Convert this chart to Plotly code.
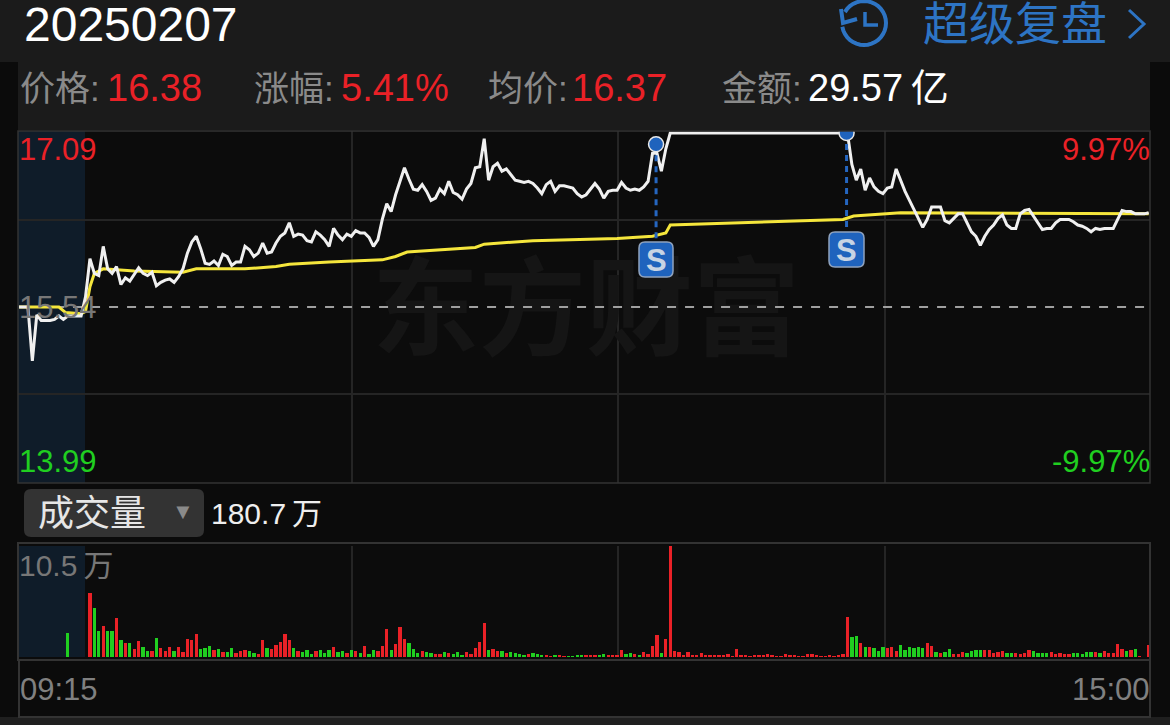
import numpy as np
import plotly.graph_objects as go

# minutes from the 09:30 open, the call auction runs from -15 to -1
auction_minutes = list(range(-15, 0))
auction_price = [15.54, 15.54, 15.54, 15.06, 15.47, 15.42, 15.42, 15.42, 15.43, 15.46,
                 15.43, 15.46, 15.46, 15.46, 15.46]
session_price = [
    15.63, 15.97, 15.84, 15.82, 16.08, 15.88, 15.84, 15.90, 15.74, 15.80,
    15.77, 15.83, 15.89, 15.84, 15.82, 15.85, 15.73, 15.76, 15.78, 15.79,
    15.76, 15.81, 15.88, 16.02, 16.12, 16.17, 16.06, 15.93, 15.92, 15.95,
    15.91, 16.01, 15.99, 15.91, 15.94, 15.94, 16.08, 16.05, 15.99, 16.02,
    16.11, 16.02, 16.03, 16.11, 16.17, 16.20, 16.29, 16.17, 16.19, 16.18,
    16.13, 16.12, 16.21, 16.18, 16.14, 16.08, 16.24, 16.18, 16.14, 16.19,
    16.17, 16.22, 16.20, 16.20, 16.16, 16.08, 16.14, 16.32, 16.46, 16.39,
    16.54, 16.66, 16.78, 16.68, 16.59, 16.58, 16.63, 16.57, 16.49, 16.51,
    16.59, 16.55, 16.66, 16.56, 16.54, 16.50, 16.59, 16.64, 16.78, 16.79,
    17.04, 16.67, 16.79, 16.82, 16.75, 16.77, 16.72, 16.67, 16.66, 16.65,
    16.66, 16.64, 16.60, 16.55, 16.63, 16.66, 16.57, 16.62, 16.62, 16.61,
    16.60, 16.55, 16.52, 16.54, 16.59, 16.64, 16.59, 16.51, 16.57, 16.58,
    16.58, 16.65, 16.60, 16.58, 16.59, 16.58, 16.61, 16.66, 16.91, 16.91,
    16.75, 16.95, 17.09, 17.09, 17.09, 17.09, 17.09, 17.09, 17.09, 17.09,
    17.09, 17.09, 17.09, 17.09, 17.09, 17.09, 17.09, 17.09, 17.09, 17.09,
    17.09, 17.09, 17.09, 17.09, 17.09, 17.09, 17.09, 17.09, 17.09, 17.09,
    17.09, 17.09, 17.09, 17.09, 17.09, 17.09, 17.09, 17.09, 17.09, 17.09,
    17.09, 17.09, 17.09, 16.81, 16.67, 16.77, 16.58, 16.69, 16.61, 16.57,
    16.55, 16.60, 16.61, 16.77, 16.67, 16.57, 16.49, 16.41, 16.33, 16.25,
    16.32, 16.43, 16.43, 16.43, 16.31, 16.29, 16.33, 16.37, 16.37, 16.29,
    16.21, 16.17, 16.09, 16.17, 16.23, 16.27, 16.33, 16.36, 16.27, 16.24,
    16.24, 16.37, 16.40, 16.41, 16.35, 16.29, 16.23, 16.24, 16.24, 16.29,
    16.32, 16.32, 16.32, 16.30, 16.27, 16.26, 16.24, 16.21, 16.24, 16.23,
    16.24, 16.24, 16.24, 16.32, 16.40, 16.39, 16.39, 16.37, 16.37, 16.37, 16.38,
]
session_minutes = list(range(0, 241))

avg_minutes = [-15, -6, -4.5, -1, 0, 1, 2, 3, 4, 11, 22, 25, 36, 43, 46, 55, 64, 67, 70, 72.6,
               88, 90, 101, 120, 128, 131, 132, 171, 173.4, 184, 240]
avg_price = [15.54, 15.54, 15.49, 15.48, 15.50, 15.72, 15.84, 15.86, 15.88, 15.86, 15.85, 15.88,
             15.88, 15.90, 15.92, 15.94, 15.96, 15.96, 15.99, 16.03, 16.07, 16.10, 16.13, 16.15,
             16.17, 16.20, 16.27, 16.32, 16.35, 16.38, 16.37]

prev_close = 15.54
limit_up = 17.09
limit_down = 13.99

sell_minutes = [128.8, 171.8]
sell_top = [16.99, 17.09]
sell_bottom = [16.14, 16.21]

# volume in units of 10k shares, R/G = up/down minute
volume_minutes = list(range(1, 241))
volume_values = [
    6.03, 4.60, 2.46, 2.97, 2.46, 2.46, 3.72, 1.61, 1.36, 1.29,
    .73, 1.51, .95, .57, .60, 1.83, .88, .57, .95, .57,
    .98, .47, 1.67, 1.61, 2.18, .76, .85, 1.04, .69, .76,
    .47, .47, .85, .41, .57, .69, .60, .38, .32, 1.61,
    .85, .73, 1.14, 1.42, 2.18, 1.61, .85, .57, .47, .69,
    .32, .57, .69, .38, .66, .95, .47, .57, .38, .63,
    .57, .41, 1.04, .28, .63, .60, 1.04, 2.65, .66, 1.23,
    2.81, 1.70, 1.29, .73, .41, .57, .47, .38, .25, .25,
    .47, .41, .28, .47, .22, .44, .28, .82, 1.42, 3.22,
    .69, .76, .60, .54, .35, .44, .38, .28, .19, .32,
    .35, .28, .22, .19, .09, .19, .22, .09, .09, .09,
    .22, .19, .22, .22, .16, .16, .25, .13, .13, .19,
    .66, .25, .38, .25, .16, .44, .32, 1.01, 2.05, .38,
    1.67, 10.5, .54, .44, .19, .44, .19, .16, .35, .13,
    .13, .16, .16, .16, .25, .09, .76, .13, .16, .06,
    .16, .16, .16, .25, .16, .09, .09, .25, .16, .13,
    .09, .09, .28, .28, .16, .06, .06, .16, .09, .16,
    .25, 3.75, 1.89, 1.96, 1.29, .98, .91, .82, .54, .98,
    .85, .95, .57, 1.10, .63, .91, .82, .91, .85, 1.32,
    1.04, .50, .41, .44, .73, .28, .28, .47, .38, .57,
    .63, .63, .66, .63, .38, .50, .60, .38, .35, .38,
    .28, .38, .66, .54, .35, .35, .35, .44, .28, .38,
    .25, .25, .38, .41, .28, .47, .47, .44, .35, .54,
    .38, .38, 1.20, .73, .60, .66, .73, .03, 0, 1.10,
]
volume_sides = (
    "RGGRGGRGRG" "RRGGRGRRRG" "RRRRRGGGRG" "RGGRRRGGRR" "GRRRRRGRGG" "GRGGGRGGRG"
    "RGRGGRRRGR" "RRGGGRGGRR" "GRGGGRRRRR" "GRRGRGGGGR" "GGGRRGRRGG" "GGRRRGGRRR"
    "RGGRGRRRRG" "RRRRRRRRRR" "RRRRRRRRRR" "RRRRRRRRRR" "RRRRRRRRRR" "RRGGRGRGGG"
    "RRRGGGGGGR" "RGRGGRRRGG" "GGRRRRRGGR" "RRRGGGGRRR" "RRGGGGGRGR" "RRRRGRGRRR"
)
auction_volume_minute = [-4]
auction_volume = [2.24]

assert len(session_price) == 241
assert len(volume_values) == 240 and len(volume_sides) == 240

RED = "#ea2127"
GREEN = "#20cf20"
BLUE = "#2d74c4"
GRAY = "#8a8a8a"
GRID = "#252525"
BORDER = "#333333"
W, H = 1170, 725
CJK = "Liberation Sans, Noto Sans CJK SC"


def px(x):
    return x / W


def py(y):
    return 1 - y / H


def rect(x0, y0, x1, y1, fill=None, line=None, width=0, layer="below"):
    return dict(type="rect", xref="paper", yref="paper", x0=px(x0), x1=px(x1), y0=py(y1), y1=py(y0),
                fillcolor=fill, line=dict(color=line, width=width), layer=layer)


def rounded(x0, y0, x1, y1, r, fill, line=None, width=0, layer="below"):
    p = (f"M {px(x0 + r)} {py(y0)} L {px(x1 - r)} {py(y0)} Q {px(x1)} {py(y0)} {px(x1)} {py(y0 + r)} "
         f"L {px(x1)} {py(y1 - r)} Q {px(x1)} {py(y1)} {px(x1 - r)} {py(y1)} "
         f"L {px(x0 + r)} {py(y1)} Q {px(x0)} {py(y1)} {px(x0)} {py(y1 - r)} "
         f"L {px(x0)} {py(y0 + r)} Q {px(x0)} {py(y0)} {px(x0 + r)} {py(y0)} Z")
    return dict(type="path", xref="paper", yref="paper", path=p, fillcolor=fill,
                line=dict(color=line, width=width), layer=layer)


def polyline(points, color, width):
    p = "M " + " L ".join(f"{px(a)} {py(b)}" for a, b in points)
    return dict(type="path", xref="paper", yref="paper", path=p,
                line=dict(color=color, width=width), layer="above")


def label(text, x, y, size, color, anchor="left", font=CJK):
    return dict(text=text, x=px(x), y=py(y), xref="paper", yref="paper", xanchor=anchor, yanchor="middle",
                showarrow=False, font=dict(size=size, color=color, family=font), borderpad=0, borderwidth=0)


fig = go.Figure()

# watermark goes first so the lines run over it
fig.add_trace(go.Scatter(x=[113], y=[15.42], mode="text", text=["东方财富"], cliponaxis=False,
                         textfont=dict(size=107, color="#151515", family="Noto Sans CJK SC", weight="bold"),
                         hoverinfo="skip", showlegend=False))
fig.add_trace(go.Scatter(x=[-15, 240], y=[prev_close, prev_close], mode="lines",
                         line=dict(color="#a0a0a0", width=2, dash="9px 9px"), hoverinfo="skip"))
fig.add_trace(go.Scatter(x=avg_minutes, y=avg_price, mode="lines", line=dict(color="#f5e63c", width=3), name="均价"))
fig.add_trace(go.Scatter(x=auction_minutes + session_minutes, y=auction_price + session_price, mode="lines",
                         line=dict(color="#f0f0f0", width=3), name="价格"))
for m, top, bottom in zip(sell_minutes, sell_top, sell_bottom):
    fig.add_trace(go.Scatter(x=[m, m], y=[top, bottom], mode="lines",
                             line=dict(color="#2566c0", width=3, dash="6px 5px"), hoverinfo="skip"))
fig.add_trace(go.Scatter(x=sell_minutes, y=sell_top, mode="markers",
                         marker=dict(size=15, color="#1f63bd", line=dict(color="#e8e8e8", width=1.5)), hoverinfo="skip"))

colors = [RED if s == "R" else GREEN for s in volume_sides]
fig.add_trace(go.Bar(x=auction_volume_minute + volume_minutes, y=auction_volume + volume_values,
                     marker=dict(color=[GREEN] + colors, line_width=0), width=0.75,
                     xaxis="x2", yaxis="y2", name="成交量"))

xrange_ = [-15.24, 240.3]
fig.update_layout(
    width=W, height=H, margin=dict(l=0, r=0, t=0, b=0), showlegend=False,
    paper_bgcolor="#0b0b0b", plot_bgcolor="#0c0c0c",
    xaxis=dict(domain=[px(18), px(1150)], range=xrange_, tickvals=[60.2, 120.2, 180.5], showticklabels=False,
               showgrid=True, gridcolor=GRID, gridwidth=2, zeroline=False, ticks=""),
    yaxis=dict(domain=[py(483), py(131)], range=[13.972, 17.108], tickvals=[14.765, 16.315], showticklabels=False,
               showgrid=True, gridcolor=GRID, gridwidth=2, zeroline=False, ticks=""),
    xaxis2=dict(domain=[px(18), px(1150)], range=xrange_, anchor="y2", tickvals=[60.2, 120.2, 180.5],
                showticklabels=False, showgrid=True, gridcolor=GRID, gridwidth=2, zeroline=False, ticks=""),
    yaxis2=dict(domain=[py(657), py(546)], range=[0, 10.5], anchor="x2", showticklabels=False, showgrid=False,
                zeroline=False, ticks=""),
    bargap=0,
)

# clock icon with the back arrow
clock = [(864 + 22 * np.cos(a), 23 - 22 * np.sin(a)) for a in np.radians(np.arange(150, -211, -10))]
shapes = [
    rect(0, 0, W, 62, fill="#1b1b1b"),
    rect(18, 62, 1150, 130, fill="#1b1b1b"),
    rect(0, 717, W, H, fill="#1f1f1f"),
    rect(18, 131, 85, 483, fill="#0f1c29"),
    rect(18, 546, 85, 657, fill="#0f1c29"),
    rect(18, 131, 1150, 483, line=BORDER, width=1.5, layer="above"),
    rect(18, 543, 1150, 660, line=BORDER, width=2, layer="above"),
    rect(19, 660, 1150, 717, line=BORDER, width=2, layer="above"),
    rounded(24, 489, 204, 537, 7, "#333333"),
    polyline(clock[:33], BLUE, 4),
    polyline([(841, 9), (843, 23), (857, 19)], BLUE, 4),
    polyline([(865, 12), (865, 25), (878, 25)], BLUE, 3.5),
    polyline([(1129, 10), (1144, 24), (1129, 38)], BLUE, 3),
    rounded(639, 242, 673, 277, 6, "#1f63bd", "#8fa3bf", 1.5, "above"),
    rounded(829, 232, 864, 267, 6, "#1f63bd", "#8fa3bf", 1.5, "above"),
]

annotations = [
    label("20250207", 24, 24, 48, "#ffffff"),
    label("超级复盘", 923, 24, 46, BLUE),
    label("价格:", 20, 88, 35, GRAY),
    label("16.38", 107, 88, 38, RED),
    label("涨幅:", 254, 88, 35, GRAY),
    label("5.41%", 341, 88, 38, RED),
    label("均价:", 488, 88, 35, GRAY),
    label("16.37", 572, 88, 38, RED),
    label("金额:", 722, 88, 35, GRAY),
    label("29.57\u2009亿", 808, 88, 38, "#ffffff"),
    label("17.09", 19, 150, 31, RED),
    label("9.97%", 1150, 150, 31, RED, "right"),
    label("15.54", 19, 307, 31, "#777777"),
    label("13.99", 19, 461, 31, GREEN),
    label("-9.97%", 1150, 461, 31, GREEN, "right"),
    label("成交量", 38, 513, 36, "#e6e6e6"),
    label("▼", 172, 512, 22, "#8a8a8a"),
    label("180.7\u2009万", 211, 513, 30, "#eeeeee"),
    label("10.5\u2009万", 19, 565, 30, "#777777"),
    label("09:15", 20, 689, 31, "#808080"),
    label("15:00", 1150, 689, 31, "#808080", "right"),
    label("<b>S</b>", 656, 260, 31, "#c8d4e4", "center", "Liberation Sans"),
    label("<b>S</b>", 846.5, 250, 31, "#c8d4e4", "center", "Liberation Sans"),
]
fig.update_layout(shapes=shapes, annotations=annotations)

fig.write_html("out.html", config=dict(displayModeBar=False),
               post_script="document.body.style.margin='0';document.body.style.background='#0b0b0b';")
